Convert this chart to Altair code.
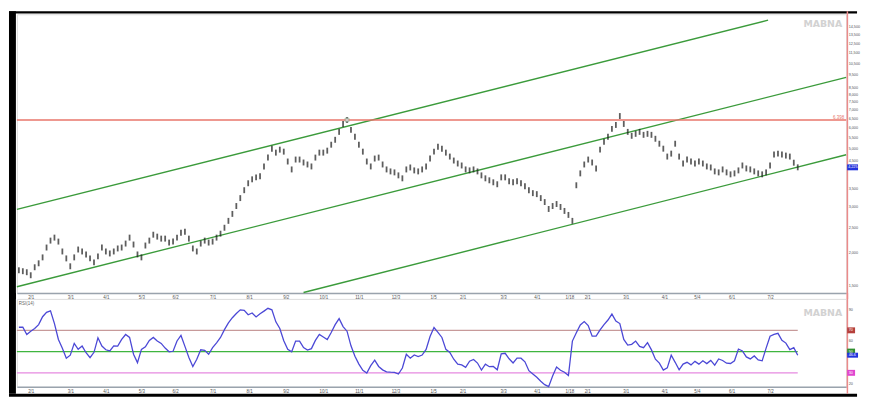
import altair as alt
import pandas as pd

# ---------------- data ----------------
close = [
    1715, 1701, 1686, 1642, 1761, 1823, 1920, 2093, 2224, 2283,
    2205, 2022, 1903, 1776, 1920, 2057, 2022, 1970, 1903, 1838,
    1937, 2093, 2022, 1987, 2022, 2076, 2093, 2167, 2283, 2149,
    1970, 1920, 2130, 2224, 2342, 2303, 2263, 2263, 2186, 2205,
    2283, 2384, 2404, 2263, 2076, 2022, 2167, 2224, 2186, 2205,
    2283, 2363, 2489, 2644, 2810, 3011, 3227, 3458, 3675, 3804,
    3870, 3905, 4258, 4602, 4975, 4806, 4933, 4847, 4446, 4148,
    4523, 4523, 4408, 4332, 4258, 4602, 4806, 4806, 4890, 5151,
    5378, 5764, 6178, 6396, 5865, 5520, 5151, 4847, 4446, 4258,
    4563, 4602, 4332, 4148, 4077, 4042, 3938, 3837, 4148, 4220,
    4113, 4077, 4148, 4258, 4563, 4847, 5062, 4975, 4806, 4643,
    4484, 4369, 4294, 4148, 4113, 4148, 4077, 3938, 3837, 3771,
    3706, 3643, 3870, 3870, 3739, 3706, 3739, 3675, 3581, 3458,
    3370, 3341, 3227, 3117, 2934, 3011, 3064, 2986, 2884, 2785,
    2644, 3611, 4007, 4332, 4523, 4408, 4185, 4933, 5286, 5520,
    5916, 6124, 6621, 6178, 5764, 5569, 5665, 5764, 5616, 5665,
    5616, 5426, 5196, 4975, 4643, 4764, 5196, 4643, 4369, 4523,
    4446, 4369, 4446, 4369, 4258, 4220, 4077, 4042, 4148, 4042,
    3973, 4007, 4113, 4294, 4185, 4148, 4077, 4007, 3973, 4042,
    4294, 4724, 4764, 4724, 4683, 4643, 4400, 4225,
]

rsi = [
    72.9, 72.9, 66.1, 69.2, 71.7, 75.4, 82.8, 87.0, 88.4, 76.3,
    61.4, 53.1, 43.8, 46.6, 57.7, 52.1, 55.2, 48.9, 44.2, 49.3,
    63.0, 55.2, 51.7, 50.6, 55.4, 55.2, 61.4, 66.1, 63.3, 47.5,
    39.6, 52.1, 54.5, 60.5, 63.3, 59.9, 57.7, 53.3, 49.8, 50.3,
    60.0, 65.2, 54.9, 44.4, 36.0, 42.8, 51.7, 51.2, 47.5, 53.7,
    58.2, 63.3, 70.7, 77.0, 81.9, 85.9, 89.3, 88.9, 84.7, 86.3,
    82.6, 85.6, 88.1, 90.7, 89.3, 78.0, 71.7, 60.2, 52.1, 49.8,
    59.9, 59.9, 53.7, 51.5, 52.8, 60.5, 66.1, 63.8, 61.4, 68.0,
    75.4, 81.0, 73.5, 69.2, 55.4, 45.6, 38.2, 32.3, 29.8, 36.8,
    41.9, 36.0, 32.8, 31.0, 30.7, 30.5, 28.9, 34.5, 47.5, 43.8,
    46.8, 45.3, 46.7, 52.1, 64.2, 72.6, 68.0, 63.3, 52.1, 49.1,
    42.8, 38.2, 37.4, 35.1, 41.0, 42.6, 39.2, 32.6, 38.2, 35.8,
    36.0, 32.9, 47.8, 48.4, 43.2, 39.3, 43.8, 43.8, 40.4, 32.0,
    28.9, 25.8, 22.1, 18.9, 17.0, 27.0, 35.4, 32.4, 30.5, 27.5,
    59.9, 67.7, 75.1, 78.3, 74.5, 64.5, 64.5, 70.4, 75.4, 79.7,
    85.3, 78.8, 76.4, 61.4, 56.1, 56.8, 59.9, 54.9, 53.7, 58.4,
    51.6, 42.8, 39.1, 32.6, 34.7, 46.6, 39.9, 32.8, 38.2, 39.9,
    37.5, 40.8, 38.2, 41.4, 38.7, 41.7, 37.3, 43.0, 41.6, 39.1,
    38.8, 41.3, 52.4, 50.6, 45.0, 43.1, 45.9, 42.2, 41.3, 53.3,
    64.5, 66.2, 67.2, 60.7, 58.0, 51.8, 53.7, 46.6,
]

tick_pos = [3.0, 13.0, 22.0, 31.0, 39.5, 49.0, 58.25, 67.5, 77.0, 86.0, 95.25,
            104.75, 112.25, 122.5, 131.0, 139.25, 143.75, 153.5, 163.25, 171.5,
            180.25, 190.0]
tick_lbl = ["2/1", "3/1", "4/1", "5/3", "6/2", "7/1", "8/1", "9/2", "10/1", "11/1",
            "12/3", "1/5", "2/1", "3/3", "4/1", "1/18", "2/1", "3/1", "4/1", "5/4",
            "6/1", "7/2"]

price_ticks = [1500, 2000, 2500, 3000, 3500, 4500, 5000, 5500, 6000, 6500, 7000,
               7500, 8000, 8500, 9500, 10500, 11500, 12500, 13500, 14500]
rsi_ticks = [20, 40, 60, 80, 90]
rsi_levels = [70, 50, 30]
rsi_level_colors = ["#c79a9a", "#3fb53f", "#e68ae0"]
rsi_box_colors = ["#b5403c", "#2f8f2f", "#e046cf"]

level_price = 6398
last_price = 4225

chan_name = ["upper", "upper", "middle", "middle", "lower", "lower"]
chan_i = [-0.5, 189.5, -0.5, 209.25, 72.0, 209.25]
chan_p = [2922, 15334, 1485, 9289, 1412, 4716]

peak_i = [83]
peak_p = [6398]

# ---------------- layout ----------------
W, H1, H2 = 839, 282, 89
FONT = "Liberation Sans"

df = pd.DataFrame({"i": list(range(len(close))), "p": close, "r": rsi})

xs = alt.Scale(domain=[-0.5, 209.25], nice=False, zero=False)
ps = alt.Scale(type="log", domain=[1406, 16152], nice=False)
rs = alt.Scale(domain=[16.8, 99.6], nice=False, zero=False)

label_expr = ("[" + ",".join("'%s'" % t for t in tick_lbl) + "][indexof(["
              + ",".join(str(v) for v in tick_pos) + "], datum.value)]")


def x_axis():
    return alt.Axis(values=tick_pos, labelExpr=label_expr, title=None, ticks=False,
                    grid=False, labelFontSize=4.5, labelPadding=1.5, labelOverlap=False,
                    labelSeparation=0, labelFlush=False, labelColor="#555",
                    labelFont=FONT, domainColor="#9aa3ad", domainWidth=1.5)


one = pd.DataFrame({"k": [0]})


def band(x1, x2, y1, y2, color="black"):
    return alt.Chart(one).mark_rect(color=color).encode(
        x=alt.value(x1), x2=alt.value(x2), y=alt.value(y1), y2=alt.value(y2))


# ---------------- price panel ----------------
candles = alt.Chart(df).mark_tick(orient="vertical", size=6, thickness=1.8,
                                  color="#1a1a1a").encode(
    x=alt.X("i:Q", scale=xs, axis=x_axis()),
    y=alt.Y("p:Q", scale=ps,
            axis=alt.Axis(orient="right", values=price_ticks, format=",", title=None,
                          ticks=False, domain=False, grid=False, labelFontSize=3.8,
                          labelPadding=2, labelOverlap=False, labelColor="#555",
                          labelFont=FONT)),
)

level_df = pd.DataFrame({"i": [-0.5, 209.25], "p": [level_price, level_price]})
level_line = alt.Chart(level_df).mark_line(color="#e8766b", strokeWidth=1.5).encode(
    x=alt.X("i:Q", scale=xs, axis=x_axis()), y=alt.Y("p:Q", scale=ps))

chan_df = pd.DataFrame({"line": chan_name, "i": chan_i, "p": chan_p})
channels = alt.Chart(chan_df).mark_line(color="#3b9b3b", strokeWidth=1.4).encode(
    x=alt.X("i:Q", scale=xs, axis=x_axis()), y=alt.Y("p:Q", scale=ps), detail="line:N")

peak = alt.Chart(pd.DataFrame({"i": peak_i, "p": peak_p})).mark_point(
    shape="square", size=14, filled=True, fill="white", stroke="#7a9a7a",
    strokeWidth=1).encode(x=alt.X("i:Q", scale=xs, axis=x_axis()), y=alt.Y("p:Q", scale=ps))

lvl_lbl = alt.Chart(pd.DataFrame({"p": [level_price], "t": [f"{level_price:,}"]})).mark_text(
    align="right", baseline="bottom", fontSize=4.5, color="#e8766b", font=FONT).encode(
    x=alt.value(837), y=alt.Y("p:Q", scale=ps), text="t:N")

last_df = pd.DataFrame({"p": [last_price], "t": [f"{last_price:,}"]})
last_box = alt.Chart(last_df).mark_rect(color="#2233dd", yOffset=-3, y2Offset=3).encode(
    x=alt.value(840), x2=alt.value(851), y=alt.Y("p:Q", scale=ps), y2="p:Q")
last_txt = alt.Chart(last_df).mark_text(align="left", baseline="middle", fontSize=3.8,
                                        color="white", font=FONT).encode(
    x=alt.value(841), y=alt.Y("p:Q", scale=ps), text="t:N")

wm1 = alt.Chart(pd.DataFrame({"t": ["MABNA"]})).mark_text(
    align="right", baseline="middle", fontSize=9.5, fontWeight="bold", color="#d2d2d2",
    font="DejaVu Sans").encode(x=alt.value(835), y=alt.value(10), text="t:N")

price = alt.layer(
    band(-8, -1, -3, H1 + 6),
    band(-8, 850, -3, -0.8),
    channels, level_line, candles, peak, lvl_lbl, wm1,
    band(839.5, 841, -3, H1 + 6, "#ec8a8a"),
    last_box, last_txt,
).properties(width=W, height=H1)

# ---------------- RSI panel ----------------
rsi_line = alt.Chart(df).mark_line(color="#4b48d6", strokeWidth=1.3).encode(
    x=alt.X("i:Q", scale=xs, axis=x_axis()),
    y=alt.Y("r:Q", scale=rs,
            axis=alt.Axis(orient="right", values=rsi_ticks, title=None, ticks=False,
                          domain=False, grid=False, labelFontSize=3.8, labelPadding=2,
                          labelOverlap=False, labelColor="#555", labelFont=FONT)),
)

level_layers = []
for v, c in zip(rsi_levels, rsi_level_colors):
    ldf = pd.DataFrame({"i": [-0.5, len(rsi) - 1], "r": [v, v]})
    level_layers.append(
        alt.Chart(ldf).mark_line(strokeWidth=1.1, color=c).encode(
            x=alt.X("i:Q", scale=xs, axis=x_axis()), y=alt.Y("r:Q", scale=rs)))

box_df = pd.DataFrame({"r": rsi_levels, "t": [str(v) for v in rsi_levels],
                       "c": rsi_box_colors})
boxes = alt.Chart(box_df).mark_rect(yOffset=-3, y2Offset=3).encode(
    x=alt.value(840), x2=alt.value(848), y=alt.Y("r:Q", scale=rs), y2="r:Q",
    color=alt.Color("c:N", scale=None))
box_txt = alt.Chart(box_df).mark_text(align="left", baseline="middle", fontSize=3.8,
                                      color="white", font=FONT).encode(
    x=alt.value(841.5), y=alt.Y("r:Q", scale=rs), text="t:N")

cur_df = pd.DataFrame({"r": [rsi[-1]], "t": [f"{rsi[-1]:.1f}"]})
cur_box = alt.Chart(cur_df).mark_rect(color="#2233dd", yOffset=-2.5, y2Offset=2.5).encode(
    x=alt.value(840), x2=alt.value(851), y=alt.Y("r:Q", scale=rs), y2="r:Q")
cur_txt = alt.Chart(cur_df).mark_text(align="left", baseline="middle", fontSize=3.8,
                                      color="white", font=FONT).encode(
    x=alt.value(841.5), y=alt.Y("r:Q", scale=rs), text="t:N")

rsi_title = alt.Chart(pd.DataFrame({"t": ["RSI(14)"]})).mark_text(
    align="left", baseline="top", fontSize=4.5, color="#666", font=FONT).encode(
    x=alt.value(2), y=alt.value(2), text="t:N")

wm2 = alt.Chart(pd.DataFrame({"t": ["MABNA"]})).mark_text(
    align="right", baseline="middle", fontSize=9.5, fontWeight="bold", color="#d2d2d2",
    font="DejaVu Sans").encode(x=alt.value(835), y=alt.value(14), text="t:N")

rsi_chart = alt.layer(
    band(-8, -1, -6, H2 + 7),
    band(-8, 850, H2 + 7, H2 + 10),
    *level_layers, rsi_line, rsi_title, wm2,
    band(839.5, 841, -6, H2 + 7, "#ec8a8a"),
    boxes, box_txt, cur_box, cur_txt,
).properties(width=W, height=H2)

chart = alt.vconcat(price, rsi_chart, spacing=6, bounds="flush", padding=0).configure_view(
    stroke="#8e99a3", strokeWidth=1.2).configure(background="white").configure_axis(
    labelOverlap=False, labelSeparation=0)

chart.save("out.html", embed_options={"renderer": "svg", "actions": False})
